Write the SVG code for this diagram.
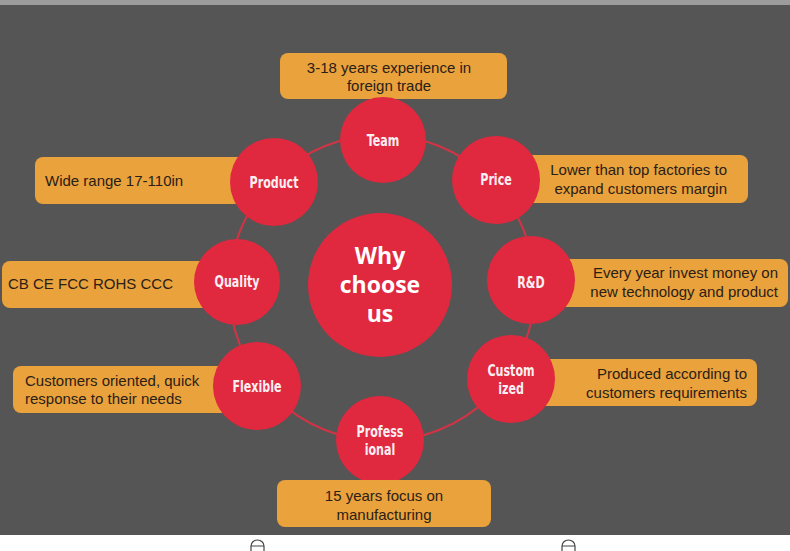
<svg xmlns="http://www.w3.org/2000/svg" width="790" height="551" viewBox="0 0 790 551">
<defs>
<style>
.box{fill:#E9A23C;}
.node{fill:#E0283F;}
.bt{font-family:"Liberation Sans",Arial,sans-serif;font-size:15px;fill:#2B2017;}
.nt{font-family:"DejaVu Sans","Liberation Sans",sans-serif;font-weight:bold;font-size:15px;fill:#FBEFF2;text-anchor:middle;}
.ct{font-family:"Open Sans","DejaVu Sans",sans-serif;font-weight:bold;font-size:23px;fill:#FFFFFF;text-anchor:middle;}
.ring{fill:none;stroke:#D23445;stroke-width:2;}
.glyph{fill:none;stroke:#444;stroke-width:1.2;}
</style>
</defs>
<rect x="0" y="0" width="790" height="551" fill="#FFFFFF"/>
<rect x="0" y="0" width="790" height="5" fill="#9C9C9C"/>
<rect x="0" y="5" width="790" height="530" fill="#555555"/>
<path class="glyph" d="M251,551 V546 A6.5,6 0 0 1 264,546 V551 M251,546 H264"/>
<path class="glyph" d="M562,551 V546 A6.5,6 0 0 1 575,546 V551 M562,546 H575"/>
<g id="connectors">
<circle class="ring" cx="382" cy="288" r="153"/>
</g>
<g id="center">
<circle class="node" cx="380" cy="285" r="72"/>
<text class="ct" x="380" y="264">Why</text>
<text class="ct" x="380" y="293">choose</text>
<text class="ct" x="380" y="322">us</text>
</g>
<g id="team">
<rect class="box" x="280" y="53" width="227" height="46" rx="8"/>
<circle class="node" cx="383" cy="140" r="43"/>
<text class="nt" transform="translate(383,146) scale(0.74,1)">Team</text>
<text class="bt" x="389" y="73" text-anchor="middle">3-18 years experience in</text>
<text class="bt" x="389" y="91" text-anchor="middle">foreign trade</text>
</g>
<g id="product">
<rect class="box" x="35" y="157" width="240" height="47" rx="8"/>
<circle class="node" cx="274" cy="182" r="44"/>
<text class="nt" transform="translate(274,188) scale(0.74,1)">Product</text>
<text class="bt" x="45" y="186">Wide range 17-110in</text>
</g>
<g id="price">
<rect class="box" x="500" y="155" width="248" height="48" rx="8"/>
<circle class="node" cx="496" cy="180" r="44"/>
<text class="nt" transform="translate(496,185) scale(0.74,1)">Price</text>
<text class="bt" x="727" y="175" text-anchor="end">Lower than top factories to</text>
<text class="bt" x="727" y="194" text-anchor="end">expand customers margin</text>
</g>
<g id="quality">
<rect class="box" x="2" y="261" width="240" height="47" rx="8"/>
<circle class="node" cx="237" cy="282" r="43"/>
<text class="nt" transform="translate(237,287) scale(0.74,1)">Quality</text>
<text class="bt" x="8" y="289">CB CE FCC ROHS CCC</text>
</g>
<g id="rd">
<rect class="box" x="535" y="259" width="253" height="48" rx="8"/>
<circle class="node" cx="531" cy="280" r="44"/>
<text class="nt" transform="translate(531,288) scale(0.74,1)">R&amp;D</text>
<text class="bt" x="778" y="278" text-anchor="end">Every year invest money on</text>
<text class="bt" x="778" y="297" text-anchor="end">new technology and product</text>
</g>
<g id="flexible">
<rect class="box" x="13" y="366" width="250" height="47" rx="8"/>
<circle class="node" cx="257" cy="386" r="44"/>
<text class="nt" transform="translate(257,392) scale(0.74,1)">Flexible</text>
<text class="bt" x="25" y="386">Customers oriented, quick</text>
<text class="bt" x="25" y="404">response to their needs</text>
</g>
<g id="customized">
<rect class="box" x="515" y="359" width="242" height="47" rx="8"/>
<circle class="node" cx="511" cy="379" r="44"/>
<text class="nt" transform="translate(511,376) scale(0.74,1)">Custom</text>
<text class="nt" transform="translate(511,394) scale(0.74,1)">ized</text>
<text class="bt" x="747" y="379" text-anchor="end">Produced according to</text>
<text class="bt" x="747" y="398" text-anchor="end">customers requirements</text>
</g>
<g id="professional">
<circle class="node" cx="380" cy="440" r="44"/>
<rect class="box" x="277" y="480" width="214" height="47" rx="8"/>
<text class="nt" transform="translate(380,437) scale(0.74,1)">Profess</text>
<text class="nt" transform="translate(380,455) scale(0.74,1)">ional</text>
<text class="bt" x="384" y="501" text-anchor="middle">15 years focus on</text>
<text class="bt" x="384" y="520" text-anchor="middle">manufacturing</text>
</g>
</svg>
